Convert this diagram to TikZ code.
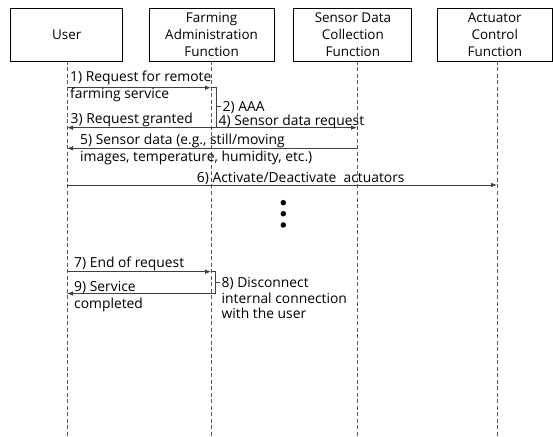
\documentclass[tikz,border=0pt]{standalone}
\usepackage{fontspec}
\setmainfont{Open Sans}
\usetikzlibrary{arrows.meta}
\begin{document}
\begin{tikzpicture}[x=1bp,y=-1bp,
  actor/.style={draw=black, line width=0.9bp, minimum height=53bp, inner sep=0pt,
    align=center, font=\fontsize{13.5}{17}\selectfont},
  life/.style={draw=black!65, line width=0.8bp, dash pattern=on 4bp off 2.5bp},
  msg/.style={draw=black!75, line width=0.8bp, -{Latex[length=6bp,width=4.5bp]}},
  link/.style={draw=black!75, line width=0.8bp},
  lbl/.style={anchor=base west, inner sep=0pt, font=\fontsize{13.9}{17}\selectfont},
  dot/.style={circle, fill=black, inner sep=0pt, minimum size=5.5bp}
]
\useasboundingbox (0,0) rectangle (553,437);

% participants
\node[actor, minimum width=112bp] (user) at (66.7,34.6) {User};
\node[actor, minimum width=125bp] (fa) at (211.6,34.6) {Farming\\Administration\\Function};
\node[actor, minimum width=118bp] (sd) at (352.9,34.6) {Sensor Data\\Collection\\Function};
\node[actor, minimum width=115bp] (ac) at (494.8,34.6) {Actuator\\Control\\Function};

% lifelines
\coordinate (uT) at (67,61);   \coordinate (uB) at (67,437);
\coordinate (fT) at (211,61);  \coordinate (fB) at (211,437);
\coordinate (sT) at (357,61);  \coordinate (sB) at (357,437);
\coordinate (aT) at (497,61);  \coordinate (aB) at (497,437);
\draw[life] (uT) -- (uB);
\draw[life] (fT) -- (fB);
\draw[life] (sT) -- (sB);
\draw[life] (aT) -- (aB);

% message anchor points
\coordinate (u1) at (67,87.7);   \coordinate (f1) at (211,87.7);
\coordinate (u3) at (67,127.7);  \coordinate (f3) at (211,127.7);
\coordinate (s4) at (357,127.7);
\coordinate (u5) at (67,148.3);  \coordinate (s5) at (357,148.3);
\coordinate (u6) at (67,185);    \coordinate (a6) at (497,185);
\coordinate (u7) at (67,271.7);  \coordinate (f7) at (211,271.7);
\coordinate (u9) at (67,293.5);  \coordinate (f9) at (211,293.5);

% bracket corners and ticks
\coordinate (b2t) at (216.7,87.7);  \coordinate (b2b) at (216.7,127.7);
\coordinate (b2m) at (216.7,106.7); \coordinate (b2e) at (220.7,106.7);
\coordinate (b8t) at (215.5,271.7); \coordinate (b8b) at (215.5,293.5);
\coordinate (b8m) at (215.5,282);   \coordinate (b8e) at (219.5,282);

% messages
\draw[msg] (u1) -- (f1);
\draw[link] (f1) -- (b2t) -- (b2b) -- (f3);
\draw[link] (b2m) -- (b2e);
\draw[msg] (f3) -- (u3);
\draw[msg] (f3) -- (s4);
\draw[msg] (s5) -- (u5);
\draw[msg] (u6) -- (a6);
\draw[msg] (u7) -- (f7);
\draw[link] (f7) -- (b8t) -- (b8b) -- (f9);
\draw[link] (b8m) -- (b8e);
\draw[msg] (f9) -- (u9);

% labels
\node[lbl] (l1a) at (70,82) {1) Request for remote};
\node[lbl] (l1b) at (70,99) {farming service};
\node[lbl] (l2)  at (222.5,112) {2) AAA};
\node[lbl] (l3)  at (70.5,124) {3) Request granted};
\node[lbl] (l4)  at (218.5,126) {4) Sensor data request};
\node[lbl] (l5a) at (80,145) {5) Sensor data (e.g., still/moving};
\node[lbl] (l5b) at (80,161.5) {images, temperature, humidity, etc.)};
\node[lbl] (l6)  at (196.7,183) {6) Activate/Deactivate\ \ actuators};
\node[lbl] (l7)  at (74,268) {7) End of request};
\node[lbl] (l8a) at (221.5,287) {8) Disconnect};
\node[lbl] (l8b) at (221.5,303.5) {internal connection};
\node[lbl] (l8c) at (221.5,318) {with the user};
\node[lbl] (l9a) at (74,291.5) {9) Service};
\node[lbl] (l9b) at (74,308.5) {completed};

% ellipsis
\node[dot] (d1) at (283.3,202.7) {};
\node[dot] (d2) at (283.3,213.7) {};
\node[dot] (d3) at (283.3,225) {};
\end{tikzpicture}
\end{document}
